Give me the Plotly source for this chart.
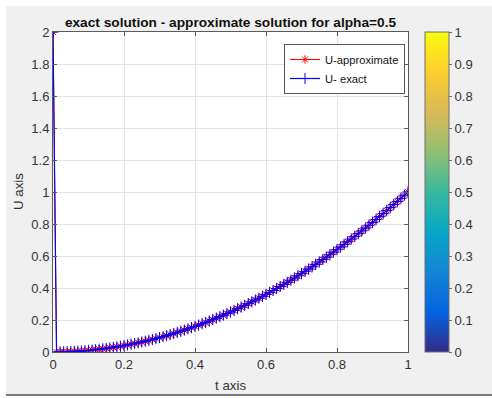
import plotly.graph_objects as go

# ---------------- data ----------------
t = [0.00, 0.01, 0.02, 0.03, 0.04, 0.05, 0.06, 0.07, 0.08, 0.09,
     0.10, 0.11, 0.12, 0.13, 0.14, 0.15, 0.16, 0.17, 0.18, 0.19,
     0.20, 0.21, 0.22, 0.23, 0.24, 0.25, 0.26, 0.27, 0.28, 0.29,
     0.30, 0.31, 0.32, 0.33, 0.34, 0.35, 0.36, 0.37, 0.38, 0.39,
     0.40, 0.41, 0.42, 0.43, 0.44, 0.45, 0.46, 0.47, 0.48, 0.49,
     0.50, 0.51, 0.52, 0.53, 0.54, 0.55, 0.56, 0.57, 0.58, 0.59,
     0.60, 0.61, 0.62, 0.63, 0.64, 0.65, 0.66, 0.67, 0.68, 0.69,
     0.70, 0.71, 0.72, 0.73, 0.74, 0.75, 0.76, 0.77, 0.78, 0.79,
     0.80, 0.81, 0.82, 0.83, 0.84, 0.85, 0.86, 0.87, 0.88, 0.89,
     0.90, 0.91, 0.92, 0.93, 0.94, 0.95, 0.96, 0.97, 0.98, 0.99,
     1.00]

U_exact = [2.0000, 0.0001, 0.0004, 0.0009, 0.0016, 0.0025, 0.0036, 0.0049, 0.0064, 0.0081,
           0.0100, 0.0121, 0.0144, 0.0169, 0.0196, 0.0225, 0.0256, 0.0289, 0.0324, 0.0361,
           0.0400, 0.0441, 0.0484, 0.0529, 0.0576, 0.0625, 0.0676, 0.0729, 0.0784, 0.0841,
           0.0900, 0.0961, 0.1024, 0.1089, 0.1156, 0.1225, 0.1296, 0.1369, 0.1444, 0.1521,
           0.1600, 0.1681, 0.1764, 0.1849, 0.1936, 0.2025, 0.2116, 0.2209, 0.2304, 0.2401,
           0.2500, 0.2601, 0.2704, 0.2809, 0.2916, 0.3025, 0.3136, 0.3249, 0.3364, 0.3481,
           0.3600, 0.3721, 0.3844, 0.3969, 0.4096, 0.4225, 0.4356, 0.4489, 0.4624, 0.4761,
           0.4900, 0.5041, 0.5184, 0.5329, 0.5476, 0.5625, 0.5776, 0.5929, 0.6084, 0.6241,
           0.6400, 0.6561, 0.6724, 0.6889, 0.7056, 0.7225, 0.7396, 0.7569, 0.7744, 0.7921,
           0.8100, 0.8281, 0.8464, 0.8649, 0.8836, 0.9025, 0.9216, 0.9409, 0.9604, 0.9801,
           1.0000]

U_approx = [2.0000, 0.0001, 0.0004, 0.0009, 0.0016, 0.0025, 0.0036, 0.0049, 0.0064, 0.0081,
            0.0100, 0.0121, 0.0144, 0.0169, 0.0196, 0.0225, 0.0256, 0.0289, 0.0324, 0.0361,
            0.0400, 0.0441, 0.0484, 0.0529, 0.0576, 0.0625, 0.0676, 0.0729, 0.0784, 0.0841,
            0.0900, 0.0961, 0.1024, 0.1089, 0.1156, 0.1225, 0.1296, 0.1369, 0.1444, 0.1521,
            0.1600, 0.1681, 0.1764, 0.1849, 0.1936, 0.2025, 0.2116, 0.2209, 0.2304, 0.2401,
            0.2500, 0.2601, 0.2704, 0.2809, 0.2916, 0.3025, 0.3136, 0.3249, 0.3364, 0.3481,
            0.3600, 0.3721, 0.3844, 0.3969, 0.4096, 0.4225, 0.4356, 0.4489, 0.4624, 0.4761,
            0.4900, 0.5041, 0.5184, 0.5329, 0.5476, 0.5625, 0.5776, 0.5929, 0.6084, 0.6241,
            0.6400, 0.6561, 0.6724, 0.6889, 0.7056, 0.7225, 0.7396, 0.7569, 0.7744, 0.7921,
            0.8100, 0.8281, 0.8464, 0.8649, 0.8836, 0.9025, 0.9216, 0.9409, 0.9604, 0.9801,
            1.0000]

series_names = ["U-approximate", "U- exact"]
title_text = "exact solution - approximate solution for alpha=0.5"
x_label = "t axis"
y_label = "U axis"

parula = [[0.0, "#352a87"], [0.125, "#0363e1"], [0.25, "#1485d4"],
          [0.375, "#06a7c6"], [0.5, "#38b99e"], [0.625, "#92bf73"],
          [0.75, "#d9ba56"], [0.875, "#fcce2e"], [1.0, "#f9fb0e"]]

# ---------------- figure ----------------
W, H = 492, 398
L, R, T, B = 53, 84, 32, 46
PW, PH = W - L - R, H - T - B


def px_x(px):
    return (px - L) / PW


def px_y(py):
    return (H - B - py) / PH


FONT = "Liberation Sans, Arial, sans-serif"
AX = "#5a5a5a"
TXT = "#333333"

fig = go.Figure()

fig.add_trace(go.Scatter(
    x=t, y=U_approx, name=series_names[0], mode="lines+markers",
    line=dict(color="#ff0000", width=1),
    marker=dict(symbol="asterisk-open", size=7,
                line=dict(color="rgba(255,40,40,0.7)", width=1)),
))
fig.add_trace(go.Scatter(
    x=t, y=U_exact, name=series_names[1], mode="lines+markers",
    line=dict(color="#0000ff", width=1.2),
    marker=dict(symbol="cross-thin-open", size=8,
                line=dict(color="rgba(40,40,255,0.65)", width=1)),
))
# colorbar holder
fig.add_trace(go.Scatter(
    x=[None], y=[None], mode="markers", showlegend=False, hoverinfo="skip",
    marker=dict(color=[0, 1], cmin=0, cmax=1, colorscale=parula, showscale=True,
                colorbar=dict(
                    x=px_x(425), xanchor="left", xpad=0,
                    y=0.5, yanchor="middle", ypad=0,
                    len=1, lenmode="fraction",
                    thickness=24, thicknessmode="pixels",
                    outlinewidth=1, outlinecolor="#6e6e6e",
                    tick0=0, dtick=0.1, ticks="outside", ticklen=3,
                    tickcolor="#6e6e6e",
                    tickfont=dict(family=FONT, size=13, color=TXT),
                )),
))

axis_common = dict(
    showline=True, linecolor=AX, linewidth=1, mirror="ticks",
    ticks="inside", ticklen=4, tickcolor=AX,
    showgrid=True, gridcolor="#e3e3e3", gridwidth=1, zeroline=False,
    tickfont=dict(family=FONT, size=13, color=TXT),
)

fig.update_xaxes(range=[0, 1], tick0=0, dtick=0.2, **axis_common)
fig.update_yaxes(range=[0, 2], tick0=0, dtick=0.2, **axis_common)

shapes = [
    # white screenshot margins
    dict(type="rect", xref="paper", yref="paper", x0=px_x(0), x1=px_x(6),
         y0=px_y(H), y1=px_y(0), fillcolor="white", line=dict(width=0), layer="below"),
    dict(type="rect", xref="paper", yref="paper", x0=px_x(0), x1=px_x(W),
         y0=px_y(6), y1=px_y(0), fillcolor="white", line=dict(width=0), layer="below"),
    dict(type="rect", xref="paper", yref="paper", x0=px_x(0), x1=px_x(W),
         y0=px_y(H), y1=px_y(395), fillcolor="white", line=dict(width=0), layer="below"),
    dict(type="line", xref="paper", yref="paper", x0=px_x(6), x1=px_x(W),
         y0=px_y(395), y1=px_y(395), line=dict(color="#505050", width=1.5)),
]

annotations = [
    dict(text=x_label, xref="paper", yref="paper", x=0.5, y=px_y(385),
         xanchor="center", yanchor="middle", showarrow=False,
         font=dict(family=FONT, size=13.3, color=TXT)),
    dict(text=y_label, xref="paper", yref="paper", x=px_x(18), y=0.5,
         xanchor="center", yanchor="middle", showarrow=False, textangle=-90,
         font=dict(family=FONT, size=13.3, color=TXT)),
]

fig.update_layout(
    width=W, height=H,
    margin=dict(l=L, r=R, t=T, b=B, pad=0),
    paper_bgcolor="#f0f0f0", plot_bgcolor="white",
    font=dict(family=FONT, size=13, color=TXT),
    title=dict(text="<b>" + title_text + "</b>", x=0.5, xref="paper",
               y=1 - 22 / H, yref="container", xanchor="center", yanchor="middle",
               font=dict(family=FONT, size=13.7, color="#111111")),
    legend=dict(x=px_x(405), y=px_y(44), xanchor="right", yanchor="top",
                bgcolor="white", bordercolor="#555555", borderwidth=1,
                font=dict(family=FONT, size=11.2, color="#111111"),
                tracegroupgap=0, itemwidth=30),
    shapes=shapes, annotations=annotations,
    showlegend=True,
)

fig.write_html("out.html")
